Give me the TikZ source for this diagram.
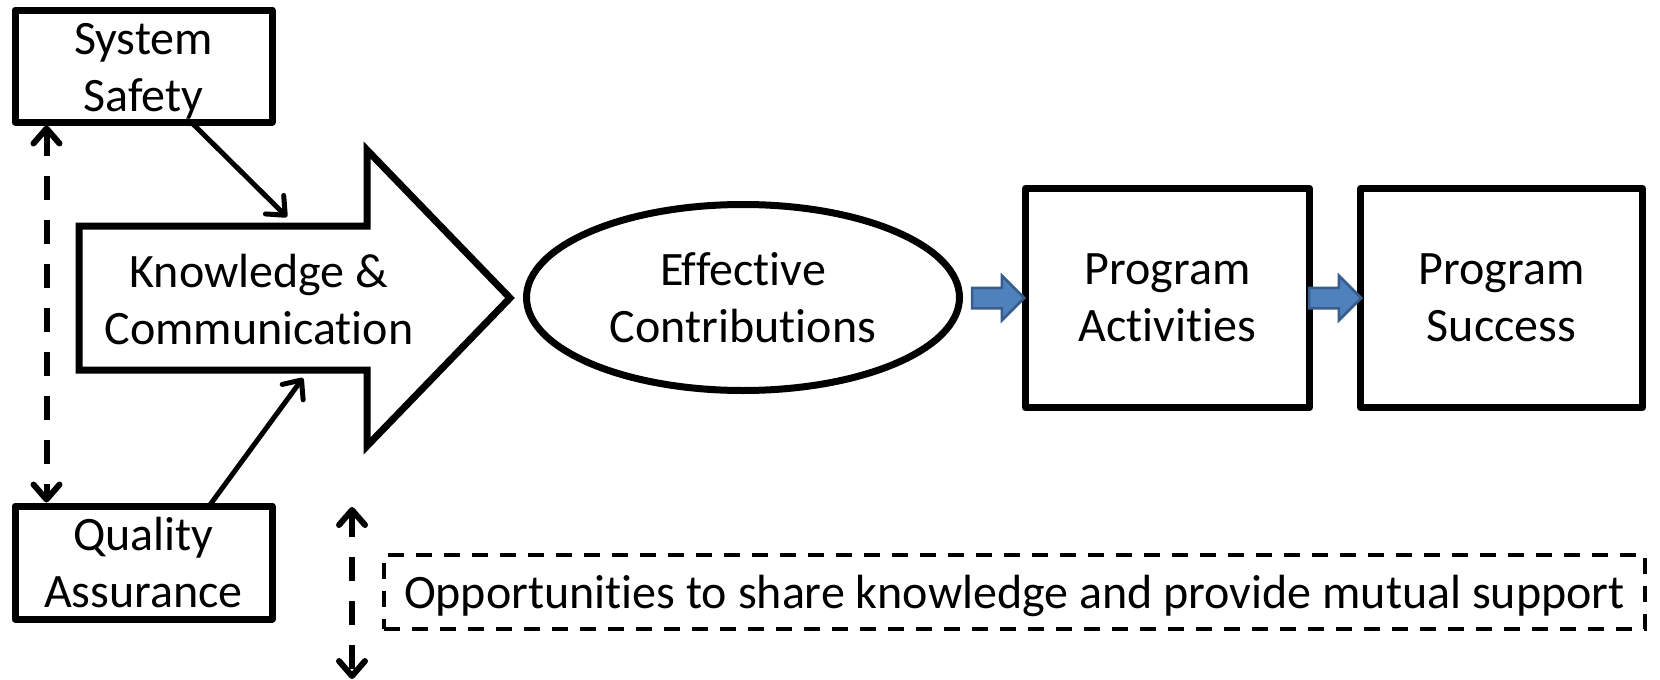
\documentclass[tikz,border=0pt]{standalone}
\usepackage{fontspec}
\setmainfont{Carlito}[Ligatures={NoCommon,NoContextual}, Contextuals=NoAlternate]
\usepackage{xcolor}
\usetikzlibrary{calc, arrows.meta, shapes.geometric, shapes.arrows}
\definecolor{flowblue}{HTML}{4F81BD}
\definecolor{flowedge}{HTML}{385D8A}
\tikzset{bigtext/.style={font=\fontsize{48}{57}\selectfont, align=center}}
\tikzset{boxnode/.style={bigtext, draw=black, line width=7pt, line join=round, inner sep=0pt}}
\tikzset{barb/.tip={Straight Barb[length=15pt, width=26pt, line cap=round, line join=round]}}
\tikzset{thinarrow/.style={line width=5pt, line cap=round, -{barb}}}
\tikzset{linkarrow/.style={line width=6pt, dash pattern=on 24pt off 20pt, {barb}-{barb}}}
\tikzset{flowarrow/.style={single arrow, draw=flowedge, fill=flowblue, line width=2.5pt, inner xsep=0pt, inner ysep=9pt, single arrow head extend=12pt, minimum height=52pt}}

\begin{document}
\begin{tikzpicture}[x=1pt, y=-1pt]
    \newcommand\posL{143.5}
    \newcommand\posMid{298}

    \useasboundingbox[fill=white] (0,0) rectangle (1660,680);

    \node[boxnode, minimum width=257pt, minimum height=112pt] (safe) at (\posL, 66){};
    \node[bigtext] (labS) at (\posL, 71){System\\Safety};
    \node[boxnode, minimum width=257pt, minimum height=113pt] (qa) at (\posL, 562.5){Quality\\Assurance};

    % block arrow around the knowledge text
    \draw[line width=7pt, line join=miter] (79,226) -- (367,226) -- (367,150) -- (510,\posMid) -- (367,446) -- (367,370) -- (79,370) -- cycle;
    \node[bigtext] (know) at (259, 299.5){Knowledge \&\\Communication};

    \node[boxnode, ellipse, minimum width=433pt, minimum height=186pt] (eff) at (743, 297.5){Effective\\Contributions};
    \node[boxnode, minimum width=284pt, minimum height=219pt] (act) at (1167.5, \posMid){Program\\Activities};
    \node[boxnode, minimum width=282pt, minimum height=219pt] (succ) at (1501.5, \posMid){Program\\Success};

    \node[flowarrow, anchor=tip] (fl1) at ($(act.west)+(4,0)$){};
    \node[flowarrow, anchor=tip] (fl2) at ($(succ.west)+(6,0)$){};

    \coordinate (kIn1) at (287,217);
    \coordinate (kIn2) at (303,378);
    \draw[thinarrow] ($(safe.south)+(48,-3)$) -- (kIn1);
    \draw[thinarrow] ($(qa.north)+(66,3)$) -- (kIn2);

    \draw[linkarrow] ($(safe.south west)+(35,0)$) -- ($(qa.north west)+(35,0)$);

    \node[bigtext, draw=black, line width=3.5pt, dash pattern=on 16pt off 12pt, minimum width=1261pt, minimum height=74pt, inner sep=0pt, text depth=0pt] (opp) at (1014.5, 592){Opportunities to share knowledge and provide mutual support};
    \coordinate (shareTop) at (352,507);
    \coordinate (shareBot) at (352,679);
    \draw[linkarrow] (shareTop) -- (shareBot);
\end{tikzpicture}
\end{document}
